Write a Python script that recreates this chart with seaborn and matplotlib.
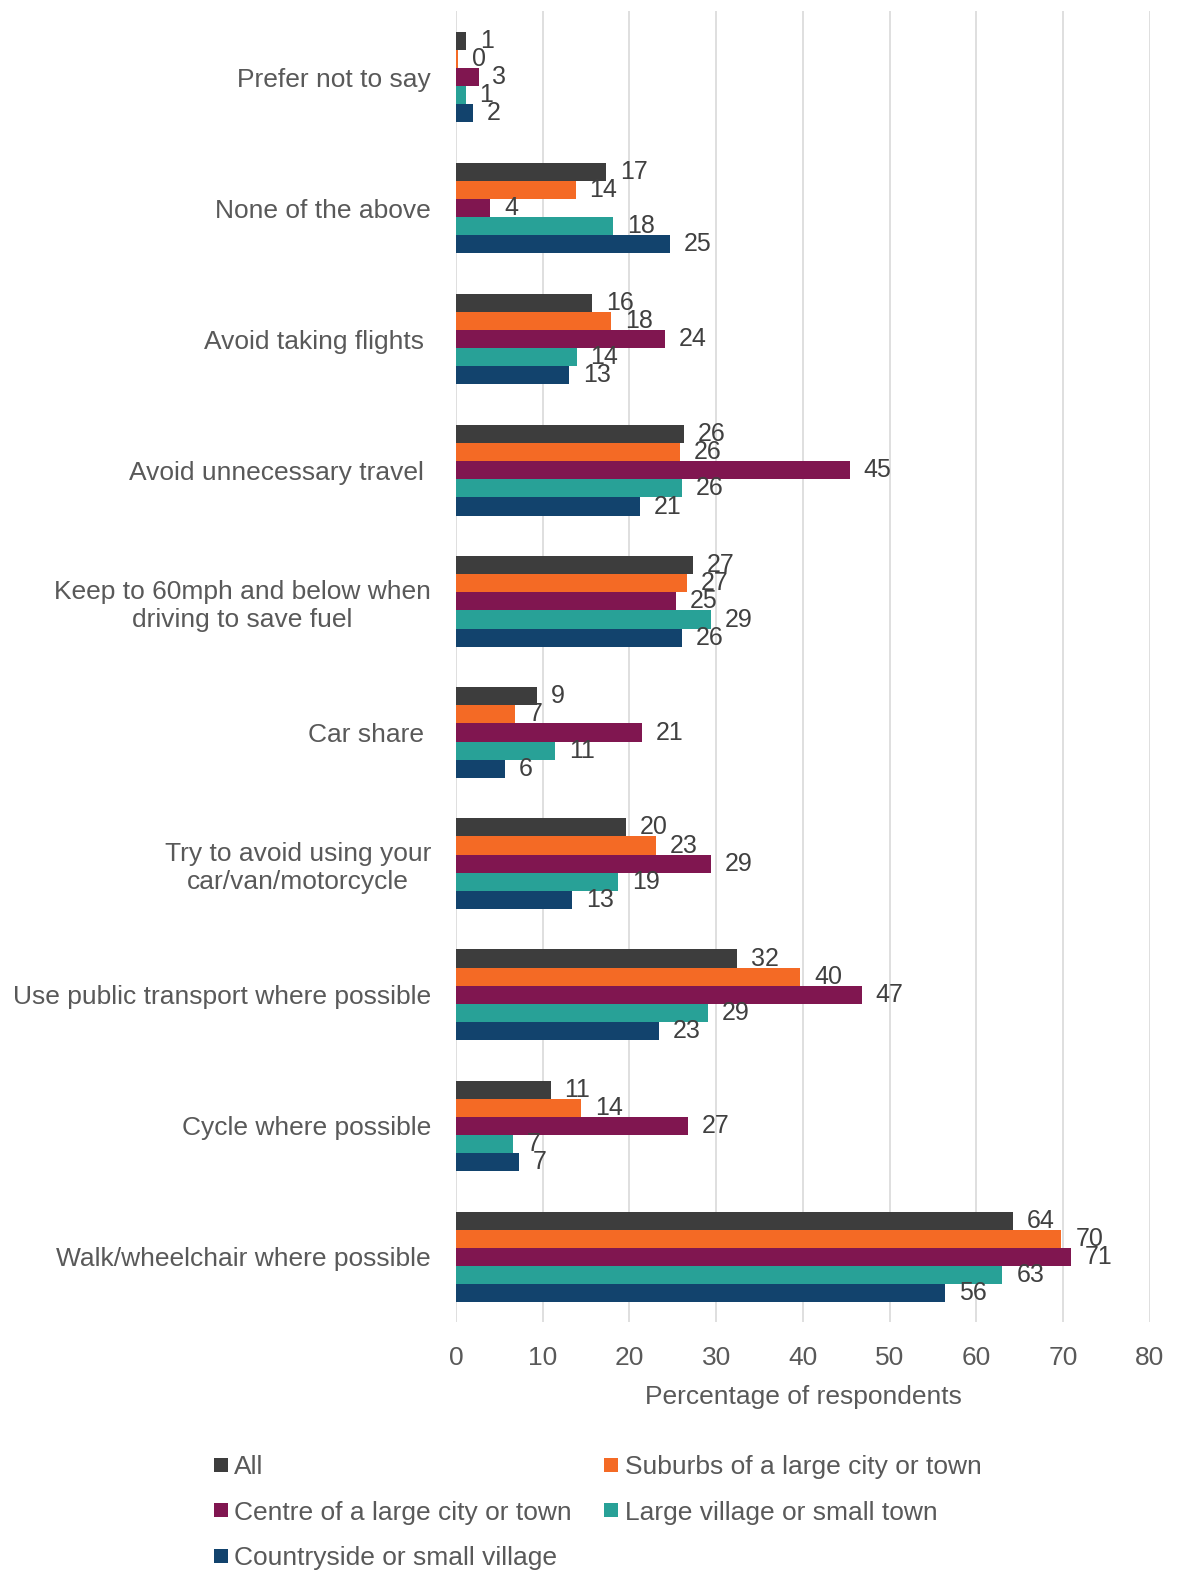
import matplotlib
matplotlib.use("Agg")
import matplotlib.pyplot as plt
from matplotlib.lines import Line2D
import pandas as pd
import seaborn as sns

# Travel-related actions taken, by type of area lived in (% of respondents)
actions = [
    "Prefer not to say",
    "None of the above",
    "Avoid taking flights ",
    "Avoid unnecessary travel ",
    "Keep to 60mph and below when\ndriving to save fuel",
    "Car share ",
    "Try to avoid using your\ncar/van/motorcycle",
    "Use public transport where possible",
    "Cycle where possible",
    "Walk/wheelchair where possible",
]
areas = [
    "All",
    "Suburbs of a large city or town",
    "Centre of a large city or town",
    "Large village or small town",
    "Countryside or small village",
]
all_resp = [1.15, 17.3, 15.7, 26.3, 27.3, 9.3, 19.6, 32.4, 10.9, 64.2]
suburbs = [0.2, 13.8, 17.9, 25.8, 26.6, 6.8, 23.1, 39.7, 14.4, 69.8]
centre = [2.6, 3.96, 24.1, 45.4, 25.4, 21.4, 29.4, 46.8, 26.7, 70.9]
large_village = [1.1, 18.1, 13.9, 26.0, 29.4, 11.4, 18.7, 29.0, 6.6, 63.0]
countryside = [2.0, 24.7, 13.0, 21.2, 26.0, 5.6, 13.4, 23.4, 7.3, 56.4]

colors = ["#3D3D3D", "#F46A25", "#801650", "#28A197", "#12436D"]

series = [all_resp, suburbs, centre, large_village, countryside]
df = pd.DataFrame(
    [(a, area, v) for area, vals in zip(areas, series) for a, v in zip(actions, vals)],
    columns=["action", "area", "pct"],
)

sns.set_theme(style="white")
plt.rcParams["font.family"] = ["Liberation Sans", "DejaVu Sans"]

fig = plt.figure(figsize=(11.77, 15.71), dpi=100)
ax = fig.add_axes([0.3874, 0.1582, 0.5896, 0.8345])

sns.barplot(
    data=df, x="pct", y="action", hue="area", orient="h",
    order=actions, hue_order=areas, palette=colors, saturation=1,
    width=0.69, linewidth=0, errorbar=None, legend=False, ax=ax,
)

for cont in ax.containers:
    ax.bar_label(cont, fmt="%.0f", padding=10, fontsize=18, color="#404040")

ax.set_xlim(0, 80)
ax.set_xticks(range(0, 81, 10))
ax.grid(axis="x", color="#D9D9D9", linewidth=1.2)
ax.grid(axis="y", visible=False)
ax.set_axisbelow(True)
for side in ["top", "right", "bottom", "left"]:
    ax.spines[side].set_visible(False)

ax.tick_params(axis="y", length=0, pad=18, labelsize=19, labelcolor="#595959")
ax.tick_params(axis="x", length=0, pad=17, labelsize=19, labelcolor="#595959")
for lab in ax.get_yticklabels():
    lab.set_multialignment("center")

ax.set_ylabel("")
ax.set_xlabel("Percentage of respondents", fontsize=19, color="#595959", labelpad=11)

# Legend laid out row by row in two columns
order = [0, 2, 4, 1, 3]
handles = [
    Line2D([], [], marker="s", linestyle="none", markersize=10,
           markerfacecolor=colors[i], markeredgewidth=0)
    for i in order
]
labels = [areas[i] for i in order]
fig.legend(
    handles, labels, loc="upper left", bbox_to_anchor=(213 / 1177, 1 - 1455 / 1571),
    ncol=2, frameon=False, fontsize=19, labelcolor="#595959",
    handlelength=0.6, handletextpad=0.2, columnspacing=1.2,
    labelspacing=0.82, borderpad=0, borderaxespad=0,
)

fig.savefig("out.png", dpi=100)
